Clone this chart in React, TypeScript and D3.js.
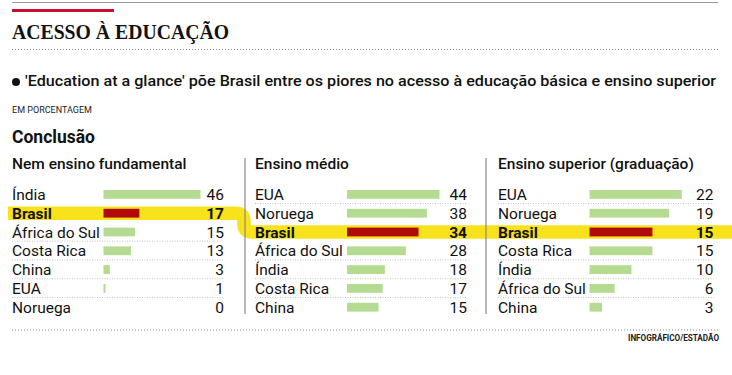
import React from "react";
import * as d3 from "d3";

const title = "ACESSO À EDUCAÇÃO";
const subtitle = "'Education at a glance' põe Brasil entre os piores no acesso à educação básica e ensino superior";
const unitLabel = "EM PORCENTAGEM";
const sectionLabel = "Conclusão";
const credit = "INFOGRÁFICO/ESTADÃO";

const panelTitles = ["Nem ensino fundamental", "Ensino médio", "Ensino superior (graduação)"];

const fundCountries = ["Índia", "Brasil", "África do Sul", "Costa Rica", "China", "EUA", "Noruega"];
const fundValues = [46, 17, 15, 13, 3, 1, 0];

const medioCountries = ["EUA", "Noruega", "Brasil", "África do Sul", "Índia", "Costa Rica", "China"];
const medioValues = [44, 38, 34, 28, 18, 17, 15];

const superiorCountries = ["EUA", "Noruega", "Brasil", "Costa Rica", "Índia", "África do Sul", "China"];
const superiorValues = [22, 19, 15, 15, 10, 6, 3];

const highlight = "Brasil";

const FONT = "Roboto, 'Noto Sans', sans-serif";
const GREEN = "#b5db92";
const RED = "#b00a0a";
const YELLOW = "#f8e21b";

const panels = [
  { title: panelTitles[0], cats: fundCountries, vals: fundValues, labelX: 12, barX: 103.5, barW: 97, valX: 224 },
  { title: panelTitles[1], cats: medioCountries, vals: medioValues, labelX: 255, barX: 347, barW: 92.5, valX: 467 },
  { title: panelTitles[2], cats: superiorCountries, vals: superiorValues, labelX: 498, barX: 589.5, barW: 92.3, valX: 713.5 },
];

const rowY = d3.scaleLinear().domain([0, 6]).range([200, 312.8]);

export default function App() {
  const hl1 = rowY(fundCountries.indexOf(highlight)) - 5.5;
  const hl2 = rowY(medioCountries.indexOf(highlight)) - 5.5;
  const r = 8;
  const xt = 244;
  const bandPath = `M8,${hl1} H${xt - r} Q${xt},${hl1} ${xt},${hl1 + r} V${hl2 - r} Q${xt},${hl2} ${xt + r},${hl2} H732`;

  return (
    <svg width={732} height={375} style={{ position: "absolute", left: 0, top: 0, background: "#fff" }} fontFamily={FONT}>
      <rect x={0} y={0} width={732} height={375} fill="#fff" />
      <line x1={12} x2={718} y1={2.5} y2={2.5} stroke="#9a9a9a" strokeWidth={1.2} />
      <rect x={12} y={9} width={102} height={3} fill="#c8102e" />
      <text x={12} y={38.5} fontFamily="'Liberation Serif', 'DejaVu Serif', serif" fontSize={20.5} fontWeight={700} fill="#111" textLength={217} lengthAdjust="spacingAndGlyphs">{title}</text>
      <line x1={12} x2={718} y1={49.5} y2={49.5} stroke="#888" strokeWidth={1} strokeDasharray="1,2" />

      <circle cx={16} cy={82} r={4} fill="#111" />
      <text x={25} y={86} fontSize={14.8} fontWeight={500} fill="#111" textLength={691} lengthAdjust="spacingAndGlyphs">{subtitle}</text>
      <text x={12} y={113} fontSize={9} fill="#222" textLength={80} lengthAdjust="spacingAndGlyphs">{unitLabel}</text>
      <text x={12} y={143} fontSize={17.5} fontWeight={700} fill="#111">{sectionLabel}</text>

      <path d={bandPath} fill="none" stroke={YELLOW} strokeWidth={13.5} />

      <line x1={245} x2={245} y1={158} y2={314} stroke="#8a8a8a" strokeWidth={1.2} />
      <line x1={486} x2={486} y1={158} y2={314} stroke="#8a8a8a" strokeWidth={1.2} />

      {panels.map((p, pi) => {
        const x = d3.scaleLinear().domain([0, d3.max(p.vals) as number]).range([0, p.barW]);
        return (
          <g key={pi}>
            <text x={p.labelX} y={168.5} fontSize={15.5} fontWeight={500} fill="#111">{p.title}</text>
            {p.cats.map((c, i) => {
              const y = rowY(i);
              const isHl = c === highlight;
              return (
                <g key={c}>
                  {i < p.cats.length - 1 && !isHl && p.cats[i + 1] !== highlight && (
                    <line x1={p.labelX} x2={p.valX} y1={y + 3.5} y2={y + 3.5} stroke="#b5b5b5" strokeWidth={0.8} strokeDasharray="1,1.5" />
                  )}
                  <text x={p.labelX} y={y} fontSize={15.5} fontWeight={isHl ? 700 : 400} fill="#111">{c}</text>
                  {p.vals[i] > 0 && (
                    <rect x={p.barX} y={y - 10} width={x(p.vals[i])} height={8.8} fill={isHl ? RED : GREEN} />
                  )}
                  <text x={p.valX} y={y} fontSize={15.5} fontWeight={isHl ? 700 : 400} fill="#111" textAnchor="end">{p.vals[i]}</text>
                </g>
              );
            })}
          </g>
        );
      })}

      <line x1={12} x2={719} y1={330} y2={330} stroke="#888" strokeWidth={1} strokeDasharray="1,2" />
      <text x={719} y={341} fontSize={8.5} fontWeight={700} fill="#222" textAnchor="end" textLength={91} lengthAdjust="spacingAndGlyphs">{credit}</text>
    </svg>
  );
}
